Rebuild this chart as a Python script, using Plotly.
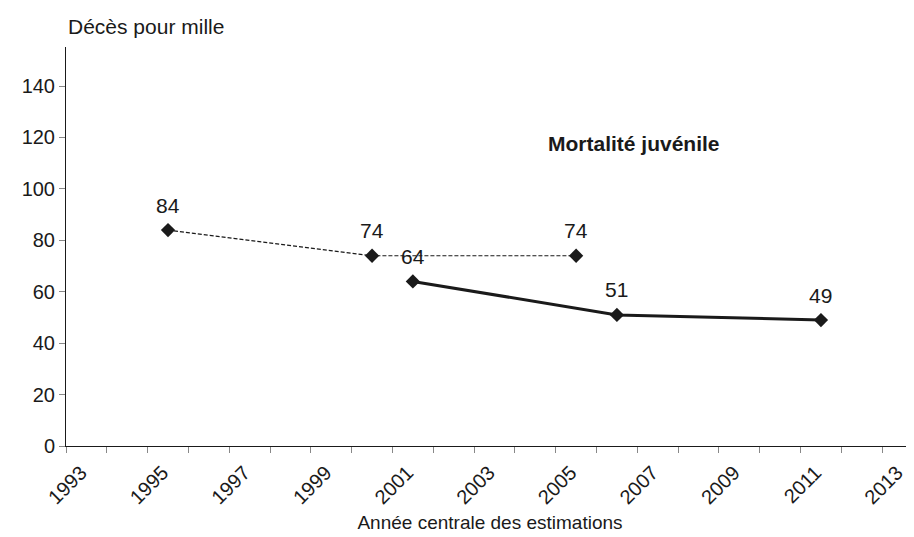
import plotly.graph_objects as go

# Data
years_a = [1995.5, 2000.5, 2005.5]
vals_a = [84, 74, 74]
years_b = [2001.5, 2006.5, 2011.5]
vals_b = [64, 51, 49]
tick_years = list(range(1993, 2014))
tick_labels = [str(y) if y % 2 == 1 else "" for y in tick_years]
y_ticks = [0, 20, 40, 60, 80, 100, 120, 140]

FONT = "Liberation Sans, Arial, sans-serif"
INK = "#1a1a1a"

fig = go.Figure()
fig.add_trace(go.Scatter(
    x=years_a, y=vals_a, mode="lines+markers",
    line=dict(color=INK, width=1.2, dash="4px,2px"),
    marker=dict(symbol="diamond", size=11, color=INK),
    showlegend=False, cliponaxis=False))
fig.add_trace(go.Scatter(
    x=years_b, y=vals_b, mode="lines+markers",
    line=dict(color=INK, width=3),
    marker=dict(symbol="diamond", size=11, color=INK),
    showlegend=False, cliponaxis=False))

annotations = []
for xs, ys in ((years_a, vals_a), (years_b, vals_b)):
    for x, y in zip(xs, ys):
        annotations.append(dict(x=x, y=y, text=str(y), showarrow=False,
                                yshift=25, font=dict(size=21, color=INK, family=FONT)))

annotations.append(dict(xref="paper", yref="paper", x=0, xanchor="left", y=1.0, yshift=21,
                        yanchor="middle", text="Décès pour mille", showarrow=False,
                        font=dict(size=21, color=INK, family=FONT)))
annotations.append(dict(x=2006.92, y=117.8, text="<b>Mortalité juvénile</b>", showarrow=False,
                        font=dict(size=21, color=INK, family=FONT)))

fig.update_layout(
    width=906, height=529,
    margin=dict(l=58, r=0, t=39, b=91, autoexpand=False),
    paper_bgcolor="white", plot_bgcolor="white",
    font=dict(family=FONT, size=20, color=INK),
    annotations=annotations,
    xaxis=dict(range=[1993, 2013.78], tickmode="array", tickvals=tick_years, ticktext=tick_labels,
               tickangle=-45, ticks="outside", ticklen=6, tickcolor="#888", tickwidth=1,
               ticklabelshift=15,
               showline=True, linecolor=INK, linewidth=1, showgrid=False, zeroline=False,
               automargin=False,
               title=dict(text="Année centrale des estimations", standoff=8,
                          font=dict(size=19, family=FONT, color=INK)),
               tickfont=dict(size=20, family=FONT, color=INK)),
    yaxis=dict(range=[0, 155.2], tickmode="array", tickvals=y_ticks,
               ticks="outside", ticklen=6, tickcolor="#888", tickwidth=1,
               showline=True, linecolor=INK, linewidth=1, showgrid=False, zeroline=False,
               automargin=False,
               tickfont=dict(size=20, family=FONT, color=INK)),
)

fig.write_html("out.html")
